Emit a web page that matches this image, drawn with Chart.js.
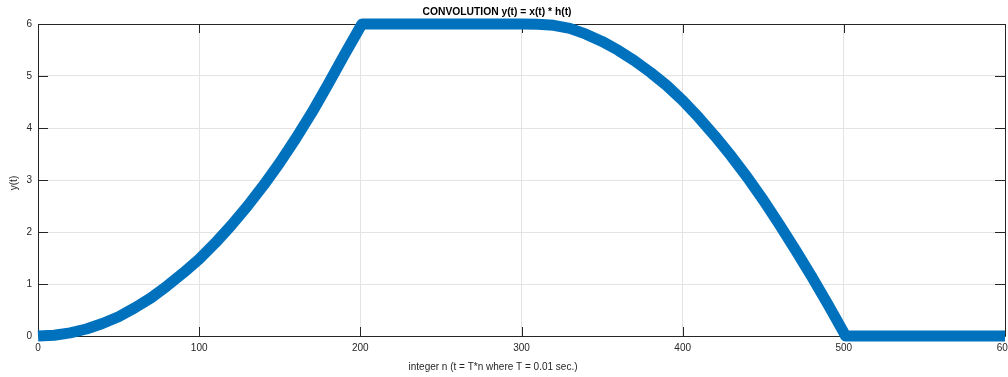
<!DOCTYPE html>
<html>
<head>
<meta charset="utf-8">
<script src="https://cdn.jsdelivr.net/npm/chart.js@4.4.1/dist/chart.umd.min.js"></script>
<style>
  html, body { margin: 0; padding: 0; background: #fff; }
  #wrap { width: 1008px; height: 377px; position: relative; }
</style>
</head>
<body>
<div id="wrap"><canvas id="conv"></canvas></div>
<script>
// ----------------------
// Data
// ----------------------
const nValues = [0, 10, 20, 30, 40, 50, 60, 70, 80, 90, 100, 110, 120, 130, 140, 150, 160, 170, 180, 190, 201,
    300, 310, 320, 330, 340, 350, 360, 370, 380, 390, 400, 410, 420, 430, 440, 450, 460, 470, 480, 490, 500, 501, 600];
const yValues = [0, 0.015, 0.06, 0.135, 0.24, 0.37, 0.54, 0.73, 0.96, 1.21, 1.48, 1.79, 2.13, 2.5, 2.9, 3.33, 3.8, 4.3, 4.84, 5.4, 6.0,
    6.0, 5.995, 5.975, 5.915, 5.805, 5.665, 5.495, 5.295, 5.07, 4.82, 4.53, 4.2, 3.845, 3.465, 3.055, 2.615, 2.145, 1.655, 1.145, 0.615, 0.065, 0, 0];
const xTicks = [0, 100, 200, 300, 400, 500, 600];
const yTicks = [0, 1, 2, 3, 4, 5, 6];

const titleText = 'CONVOLUTION y(t) = x(t) * h(t)';
const xLabel = 'integer n (t = T*n where T = 0.01 sec.)';
const yLabel = 'y(t)';

const axisColor = '#262626';
const gridColor = '#e3e3e3';
const font = 'Helvetica, Arial, "Liberation Sans", sans-serif';

const points = nValues.map((n, i) => ({ x: n, y: yValues[i] }));

// ----------------------
// Box, inward ticks and labels (MATLAB style)
// ----------------------
const matlabAxes = {
    id: 'matlabAxes',
    beforeDatasetsDraw(chart) {
        const { ctx, chartArea: a, scales: { x, y } } = chart;
        ctx.save();
        ctx.strokeStyle = axisColor;
        ctx.lineWidth = 1;
        ctx.beginPath();
        ctx.rect(Math.round(a.left) + 0.5, Math.round(a.top) + 0.5,
            Math.round(a.right - a.left), Math.round(a.bottom - a.top));
        ctx.stroke();
        // inward ticks
        ctx.beginPath();
        xTicks.forEach(v => {
            const px = Math.round(x.getPixelForValue(v)) + 0.5;
            ctx.moveTo(px, a.bottom); ctx.lineTo(px, a.bottom - 9);
            ctx.moveTo(px, a.top); ctx.lineTo(px, a.top + 9);
        });
        yTicks.forEach(v => {
            const py = Math.round(y.getPixelForValue(v)) + 0.5;
            ctx.moveTo(a.left, py); ctx.lineTo(a.left + 10, py);
            ctx.moveTo(a.right, py); ctx.lineTo(a.right - 10, py);
        });
        ctx.stroke();

        // tick labels
        ctx.fillStyle = axisColor;
        ctx.font = '10px ' + font;
        ctx.textAlign = 'center';
        ctx.textBaseline = 'top';
        xTicks.forEach(v => ctx.fillText(String(v), x.getPixelForValue(v), a.bottom + 7));
        ctx.textAlign = 'right';
        ctx.textBaseline = 'middle';
        yTicks.forEach(v => ctx.fillText(String(v), a.left - 6, y.getPixelForValue(v)));

        // axis labels and title
        ctx.textAlign = 'center';
        ctx.fillText(xLabel, 493, 367);
        ctx.save();
        ctx.translate(14, 183);
        ctx.rotate(-Math.PI / 2);
        ctx.fillText(yLabel, 0, 0);
        ctx.restore();
        ctx.font = 'bold 10.3px ' + font;
        ctx.fillStyle = '#000';
        ctx.fillText(titleText, 497, 12);
        ctx.restore();
    }
};

// ----------------------
// Chart
// ----------------------
new Chart(document.getElementById('conv'), {
    type: 'scatter',
    data: {
        datasets: [{
            data: points,
            showLine: true,
            borderColor: '#0072BD',
            borderWidth: 11,
            pointRadius: 0,
            tension: 0,
            borderJoinStyle: 'round',
            clip: false
        }]
    },
    options: {
        responsive: true,
        maintainAspectRatio: false,
        animation: false,
        layout: { padding: { top: 24, right: 3, left: 0, bottom: 0 } },
        plugins: { legend: { display: false }, tooltip: { enabled: false } },
        scales: {
            x: {
                type: 'linear', min: 0, max: 600,
                afterBuildTicks: s => { s.ticks = xTicks.map(v => ({ value: v })); },
                afterFit: s => { s.height = 41; },
                ticks: { display: false },
                grid: { color: gridColor, drawTicks: false },
                border: { display: false }
            },
            y: {
                type: 'linear', min: 0, max: 6,
                afterBuildTicks: s => { s.ticks = yTicks.map(v => ({ value: v })); },
                afterFit: s => { s.width = 38; },
                ticks: { display: false },
                grid: { color: gridColor, drawTicks: false },
                border: { display: false }
            }
        }
    },
    plugins: [matlabAxes]
});
</script>
</body>
</html>
